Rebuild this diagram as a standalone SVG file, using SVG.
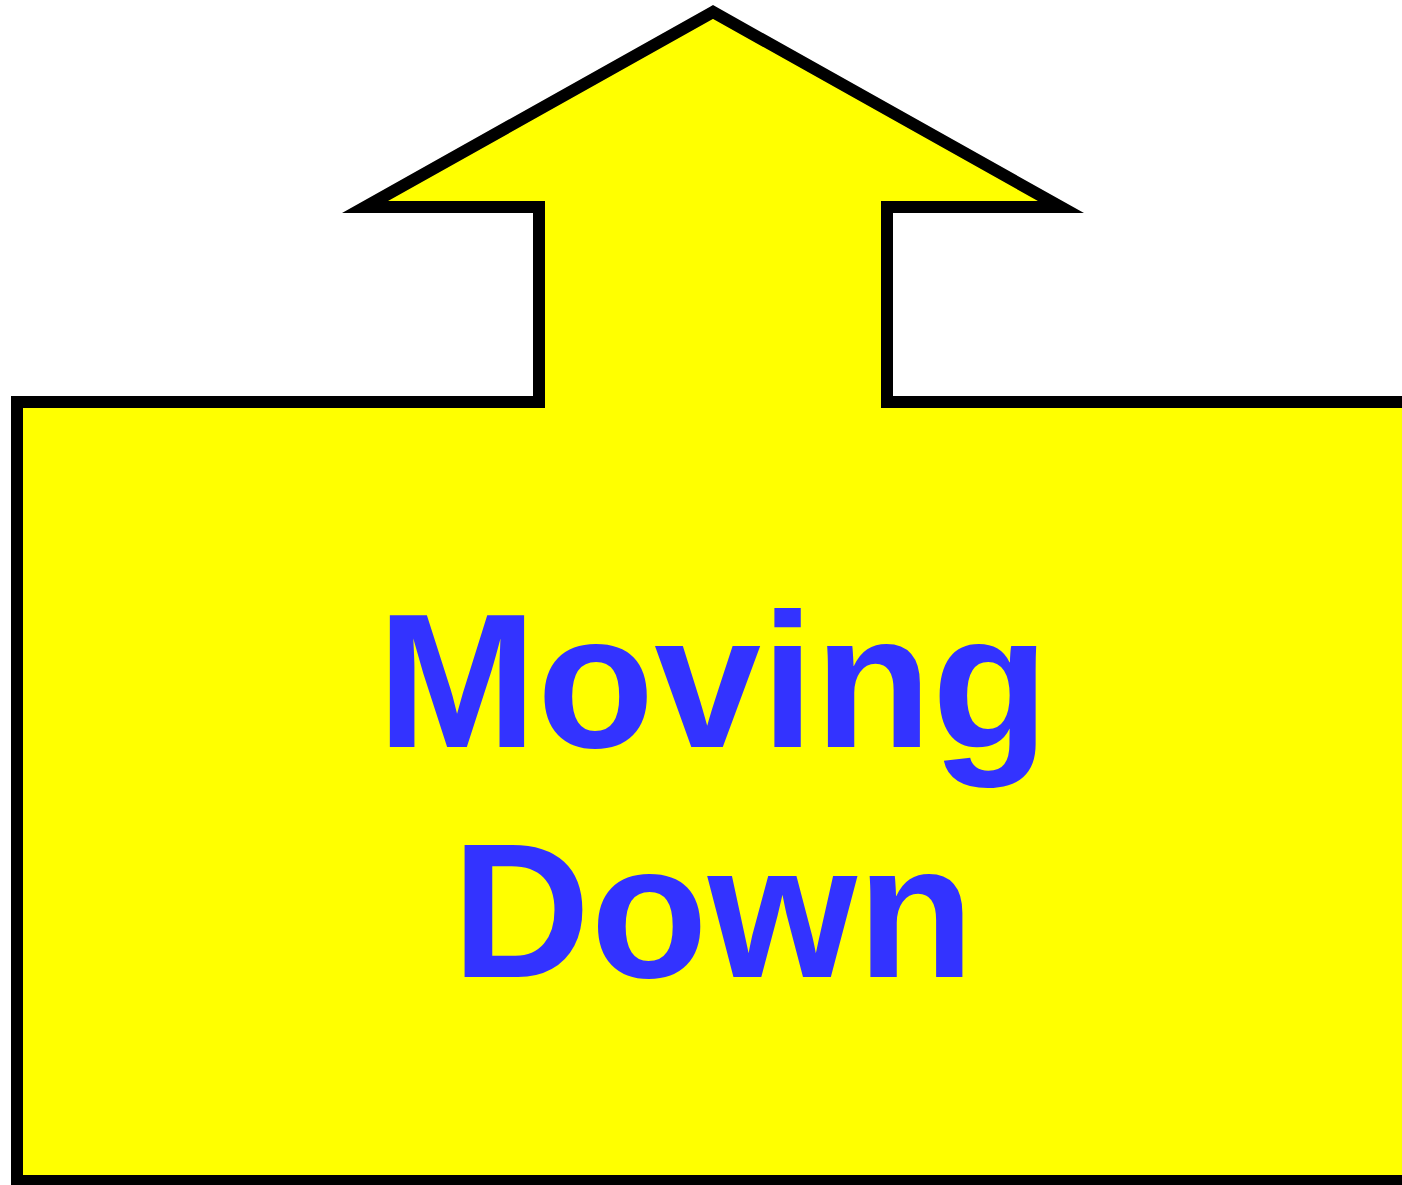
<svg xmlns="http://www.w3.org/2000/svg" width="1402" height="1185" viewBox="0 0 1402 1185">
<style>
.shape{fill:#FFFF00;stroke:#000;stroke-width:12;stroke-miterlimit:10;stroke-linejoin:miter}
.label{font-family:"Liberation Sans",Arial,Helvetica,sans-serif;font-weight:bold;font-size:192px;fill:#3333FF;text-anchor:middle}
</style>
<rect width="1402" height="1185" fill="#fff"/>
<g id="node-moving-down">
<polygon class="shape" points="713,12 365,207 539,207 539,402 17,402 17,1181 1410,1181 1410,402 887,402 887,207 1061,207"/>
<text class="label" x="713" y="747">Moving</text>
<text class="label" x="713" y="977">Down</text>
</g>
<g id="connectors"></g>
</svg>
